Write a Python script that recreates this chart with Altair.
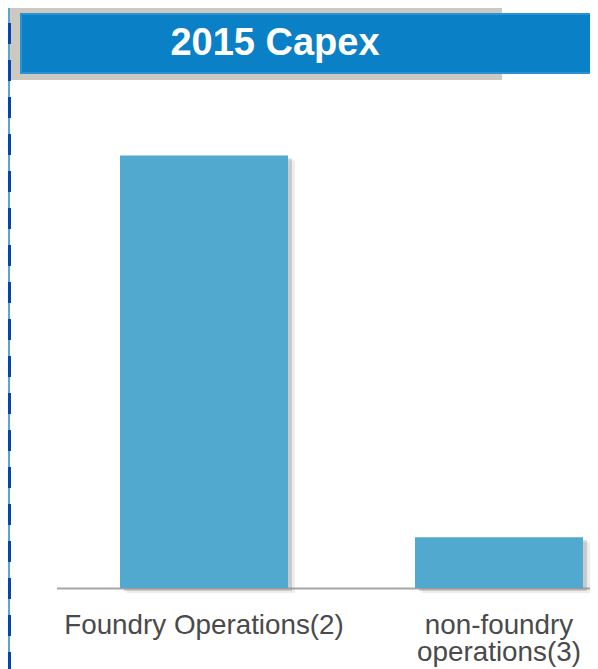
import altair as alt
import pandas as pd

# ---- data ----
categories = ["Foundry Operations(2)", "non-foundry\noperations(3)"]
values = [89.5, 10.5]
title_text = ["2015 Capex"]

df = pd.DataFrame({"category": categories, "value": values})
one = pd.DataFrame({"t": title_text})

FONT = "Liberation Sans"
BAR = "#52a9cf"
PW, PH = 582, 580

x_enc = alt.X(
    "category:N",
    sort=categories,
    scale=alt.Scale(range=[48.5, 638.5], paddingInner=0.4305, paddingOuter=0.2153),
    axis=alt.Axis(
        title=None,
        labelAngle=0,
        labelExpr="split(datum.label, '\\n')",
        labelFont=FONT,
        labelFontSize=27.8,
        labelLineHeight=27,
        labelColor="#4a4a4a",
        labelPadding=23,
        labelLimit=500,
        ticks=False,
        tickSize=0,
        domain=True,
        domainColor="#a6a6a6",
        domainWidth=2,
        grid=False,
    ),
)
y_enc = alt.Y("value:Q", scale=alt.Scale(domain=[0, 120], nice=False, zero=True), axis=None)

base = alt.Chart(df)

shadow2 = base.mark_bar(color="#9a9a9a", opacity=0.18, xOffset=7, yOffset=5).encode(x=x_enc, y=y_enc)
shadow1 = base.mark_bar(color="#8a8a8a", opacity=0.35, xOffset=4, yOffset=3).encode(x=x_enc, y=y_enc)
bars = base.mark_bar(color=BAR).encode(x=x_enc, y=y_enc)

deco = alt.Chart(one)
noise = deco.mark_rect(color="#cdc9c1").encode(
    x=alt.value(0), x2=alt.value(494), y=alt.value(0), y2=alt.value(72)
)
title_bar = deco.mark_rect(color="#0a80c6", stroke="#2a93d6", strokeWidth=2).encode(
    x=alt.value(13), x2=alt.value(600), y=alt.value(6), y2=alt.value(65)
)
title_txt = deco.mark_text(
    font=FONT, fontSize=38, fontWeight="bold", color="white", align="center", baseline="alphabetic"
).encode(x=alt.value(267), y=alt.value(47), text="t:N")

left_line = deco.mark_rule(color="#5aa5d2", strokeWidth=2).encode(
    x=alt.value(1), y=alt.value(0), y2=alt.value(670)
)
left_dash = deco.mark_rule(color="#0047b3", strokeWidth=4, strokeDash=[21, 16], strokeDashOffset=22).encode(
    x=alt.value(1), y=alt.value(0), y2=alt.value(670)
)

chart = alt.layer(
    noise, title_bar, title_txt, shadow2, shadow1, bars, left_line, left_dash
).properties(
    width=PW,
    height=PH,
    autosize=alt.AutoSizeParams(type="none"),
    padding={"left": 0, "top": 0, "right": 0, "bottom": 81},
    background="white",
).configure_view(stroke=None)

chart.save("out.html", embed_options={"renderer": "svg", "actions": False})
